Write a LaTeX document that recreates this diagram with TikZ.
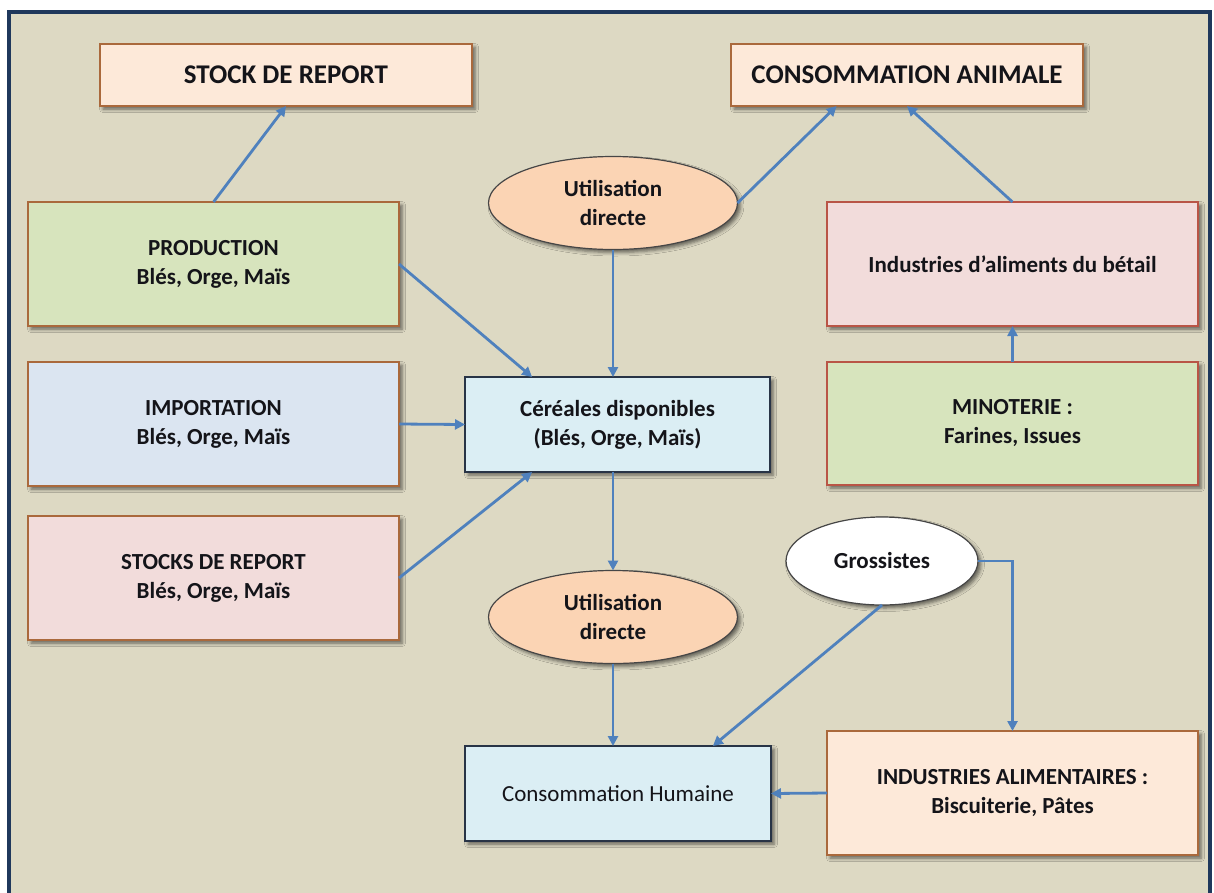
\documentclass[tikz,border=0pt]{standalone}
\usepackage{fontspec}
\setmainfont{Carlito}
\usetikzlibrary{arrows.meta,shapes.geometric,shadows.blur,calc}

\definecolor{bgbeige}{RGB}{221,217,195}
\definecolor{framblue}{RGB}{31,56,92}
\definecolor{flowblue}{RGB}{79,129,189}
\definecolor{txtdark}{RGB}{20,20,25}
\definecolor{brdbrown}{RGB}{170,105,60}
\definecolor{brdred}{RGB}{185,85,70}
\definecolor{brddark}{RGB}{40,52,70}
\definecolor{brdgrey}{RGB}{70,70,70}
\definecolor{fpeach}{RGB}{253,233,217}
\definecolor{fgreen}{RGB}{215,228,189}
\definecolor{fblue}{RGB}{219,229,241}
\definecolor{fpink}{RGB}{242,220,219}
\definecolor{fcyan}{RGB}{219,238,244}
\definecolor{forange}{RGB}{251,212,180}

\tikzset{
  softshadow/.style={blur shadow={shadow xshift=3pt, shadow yshift=-3pt,
      shadow blur radius=3.5pt, shadow opacity=55}},
  box/.style={rectangle, draw=brdbrown, line width=1.2pt, inner sep=0pt,
      outer sep=0pt, align=center, text=txtdark,
      font=\fontsize{23}{29}\selectfont\bfseries, softshadow},
  titlebox/.style={box, fill=fpeach, minimum height=62pt,
      font=\fontsize{27}{32}\selectfont\bfseries},
  oval/.style={ellipse, draw=brdgrey, line width=1.2pt, inner sep=0pt,
      outer sep=0pt, align=center, text=txtdark,
      font=\fontsize{23}{29}\selectfont\bfseries, softshadow},
  flow/.style={draw=flowblue, line width=2.8pt,
      -{Triangle[length=10pt,width=10pt]}},
}

\begin{document}
\begin{tikzpicture}[x=1pt,y=-1pt]
  % canvas and frame
  \useasboundingbox (0,0) rectangle (1214,892);
  \fill[white] (0,0) rectangle (1214,892);
  \fill[bgbeige] (9,12) rectangle (1210,896);
  \draw[framblue, line width=3.5pt] (9,12) rectangle (1210,896);

  % upper outputs
  \node[titlebox, minimum width=372pt] (stockrep) at (286,75) {STOCK DE REPORT};
  \node[titlebox, minimum width=352pt] (consanim) at (907,75) {CONSOMMATION ANIMALE};

  % supply sources
  \node[box, fill=fgreen, minimum width=371pt, minimum height=124pt] (prod) at (213.5,264)
    {PRODUCTION\\Blés, Orge, Maïs};
  \node[box, fill=fblue, minimum width=371pt, minimum height=124pt] (import) at (213.5,424)
    {IMPORTATION\\Blés, Orge, Maïs};
  \node[box, fill=fpink, minimum width=371pt, minimum height=124pt] (stocks) at (213.5,578)
    {STOCKS DE REPORT\\Blés, Orge, Maïs};

  % central pool and direct uses
  \node[box, draw=brddark, fill=fcyan, minimum width=305pt, minimum height=95pt] (cer) at (617.5,424.5)
    {Céréales disponibles\\(Blés, Orge, Maïs)};
  \node[oval, fill=forange, minimum width=249pt, minimum height=93pt] (util1) at (613,203)
    {Utilisation\\directe};
  \node[oval, fill=forange, minimum width=249pt, minimum height=93pt] (util2) at (613,617)
    {Utilisation\\directe};

  % processing chain on the right
  \node[box, draw=brdred, fill=fpink, minimum width=371pt, minimum height=124pt] (indbet) at (1012.5,264)
    {Industries d'aliments du bétail};
  \node[box, draw=brdred, fill=fgreen, minimum width=371pt, minimum height=123pt] (minot) at (1012.5,423.5)
    {MINOTERIE :\\Farines, Issues};
  \node[oval, fill=white, minimum width=192pt, minimum height=88pt] (gross) at (882,561)
    {Grossistes};
  \node[box, fill=fpeach, minimum width=371pt, minimum height=124pt] (indali) at (1012.5,793)
    {INDUSTRIES ALIMENTAIRES :\\Biscuiterie, Pâtes};
  \node[box, draw=brddark, fill=fcyan, minimum width=306pt, minimum height=95pt,
        font=\fontsize{23}{29}\selectfont\mdseries] (conshum) at (618,793.5)
    {Consommation Humaine};

  % flows
  \draw[flow] (prod.north) -- (stockrep.south);
  \draw[flow] (prod.east) -- ($(cer.north west)!0.22!(cer.north east)$);
  \draw[flow] (import.east) -- (cer.west);
  \draw[flow] (stocks.east) -- ($(cer.south west)!0.22!(cer.south east)$);
  \draw[flow] (util1.south) -- (util1.south |- cer.north);
  \draw[flow] (util1.east) -- ($(consanim.south west)!0.30!(consanim.south east)$);
  \draw[flow] (indbet.north) -- (consanim.south);
  \draw[flow] (minot.north) -- (indbet.south);
  \draw[flow] (util2.north |- cer.south) -- (util2.north);
  \draw[flow] (util2.south) -- (util2.south |- conshum.north);
  \draw[flow] (gross.south) -- ($(conshum.north west)!0.81!(conshum.north east)$);
  \draw[flow] (gross.east) -| (indali.north);
  \draw[flow] (indali.west) -- (conshum.east);
\end{tikzpicture}
\end{document}
